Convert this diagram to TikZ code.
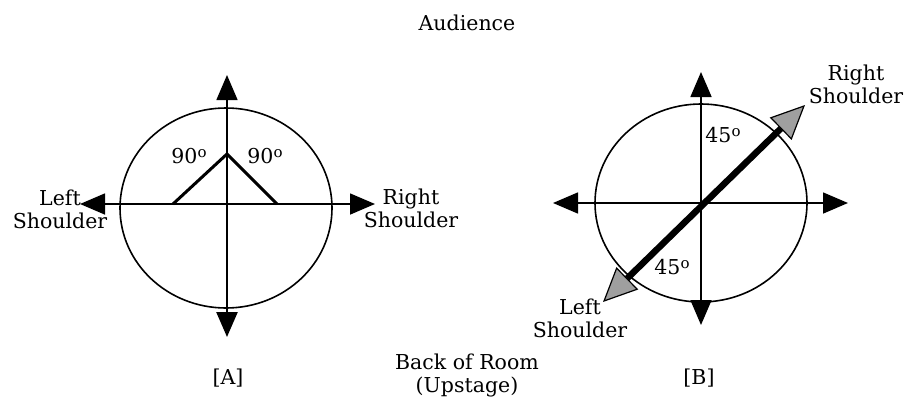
\documentclass[tikz,border=0pt]{standalone}
\usepackage{fontspec}
\setmainfont{DejaVu Serif}
\usetikzlibrary{arrows.meta}
\newcommand{\dg}{\raisebox{0.55ex}{\fontsize{15}{15}\selectfont o}}
\begin{document}
\begin{tikzpicture}[x=1pt,y=-1pt,
  lbl/.style={font=\fontsize{20.5}{23}\selectfont, inner sep=0pt, align=center},
  thinline/.style={line width=1.6pt},
  axisarrow/.style={thinline, -{Triangle[length=25pt,width=21pt]}},
  armline/.style={line width=3pt},
  shoulder/.style={line width=6.5pt, {Triangle[length=34pt,width=31pt,line width=1.2pt,fill=gray!75]}-{Triangle[length=34pt,width=31pt,line width=1.2pt,fill=gray!75]}},
  ring/.style={line width=1.6pt}]
\useasboundingbox (0,0) rectangle (904,399);
% ---------------- diagram A
\coordinate (ca) at (227,204);
\coordinate (at) at (227,75);
\coordinate (ab) at (227,337);
\coordinate (al) at (80,204);
\coordinate (ar) at (375,204);
\coordinate (apex) at (227,154);
\coordinate (lf) at (173,204);
\coordinate (rf) at (277,204);
\draw[ring] (226,208) ellipse [x radius=106, y radius=100];
\draw[axisarrow] (ca) -- (at);
\draw[axisarrow, line width=2.5pt] (ca) -- (ab);
\draw[axisarrow] (ca) -- (al);
\draw[axisarrow] (ca) -- (ar);
\draw[armline] (lf) -- (apex) -- (rf);
\node[lbl] (a90l) at (189,156) {90\dg};
\node[lbl] (a90r) at (265,156) {90\dg};
\node[lbl] (alab) at (60,209) {Left\\Shoulder};
\node[lbl] (arlab) at (411,208) {Right\\Shoulder};
\node[lbl] (A) at (228,378) {[A]};
% ---------------- diagram B
\coordinate (cb) at (701,203);
\coordinate (bt) at (701,72);
\coordinate (bb) at (701,325);
\coordinate (bl) at (553,203);
\coordinate (br) at (848,203);
\coordinate (bls) at (603,302);
\coordinate (brs) at (805,105);
\draw[ring] (701,203) ellipse [x radius=106, y radius=99];
\draw[axisarrow] (cb) -- (bt);
\draw[axisarrow] (cb) -- (bb);
\draw[axisarrow] (cb) -- (bl);
\draw[axisarrow] (cb) -- (br);
\draw[shoulder] (bls) -- (brs);
\node[lbl] (b45t) at (723,135) {45\dg};
\node[lbl] (b45b) at (672,267) {45\dg};
\node[lbl] (blab) at (580,318) {Left\\Shoulder};
\node[lbl] (brlab) at (856,84) {Right\\Shoulder};
\node[lbl] (B) at (699,378) {[B]};
% ---------------- titles
\node[lbl] (aud) at (467,23) {Audience};
\node[lbl] (back) at (467,375) {Back of Room\\(Upstage)};
\end{tikzpicture}
\end{document}
